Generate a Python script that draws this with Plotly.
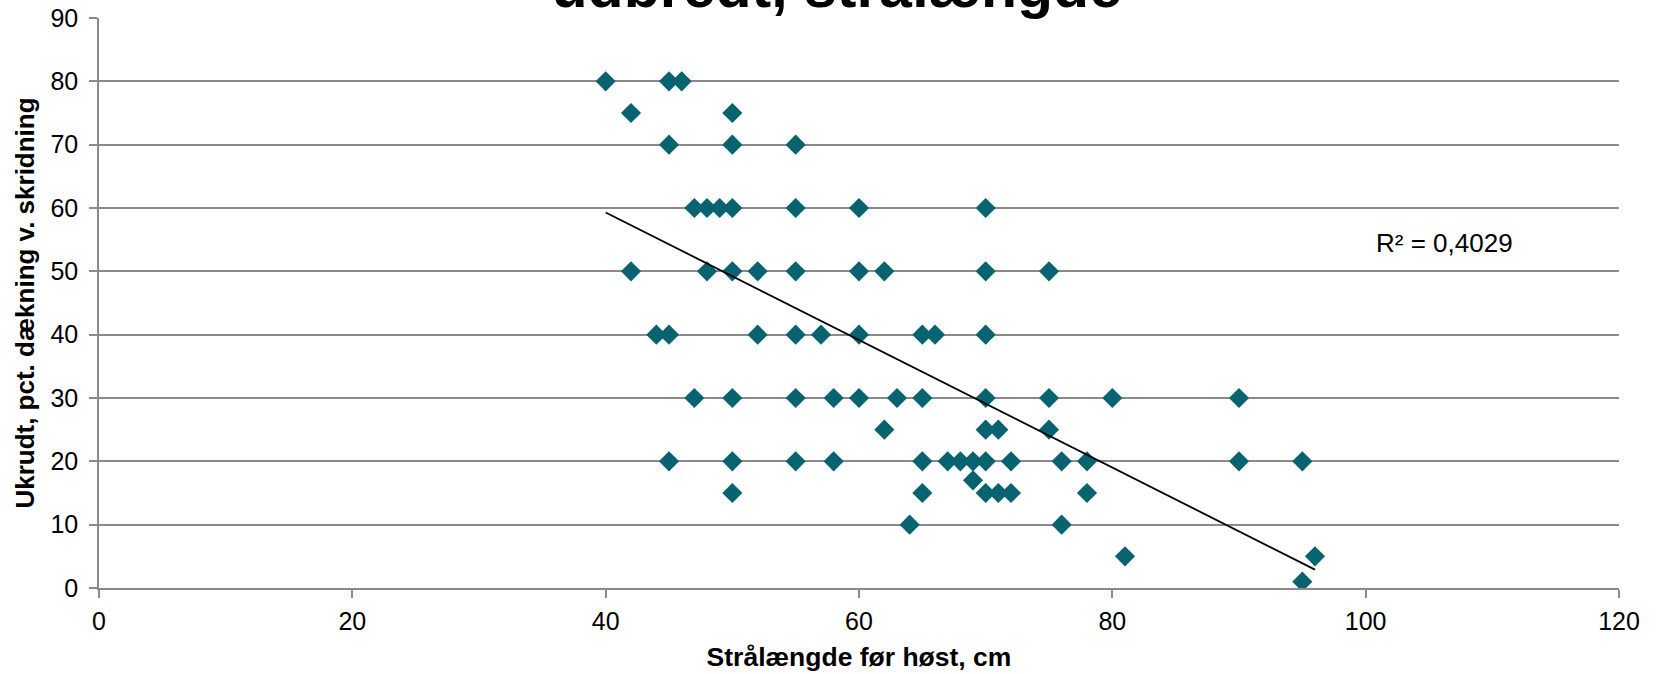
import plotly.graph_objects as go

# Data: (x = strålængde cm, y = ukrudt pct.)
x_vals = [40, 45, 46,
          42, 50,
          45, 50, 55,
          47, 48, 49, 50, 55, 60, 70,
          42, 48, 50, 52, 55, 60, 62, 70, 75,
          44, 45, 52, 55, 57, 60, 65, 66, 70,
          47, 50, 55, 58, 60, 63, 65, 70, 75, 80, 90,
          62, 70, 71, 75,
          45, 50, 55, 58, 65, 67, 68, 69, 70, 72, 76, 78, 90, 95,
          69,
          50, 65, 70, 71, 72, 78,
          64, 76,
          81, 96,
          95]
y_vals = [80, 80, 80,
          75, 75,
          70, 70, 70,
          60, 60, 60, 60, 60, 60, 60,
          50, 50, 50, 50, 50, 50, 50, 50, 50,
          40, 40, 40, 40, 40, 40, 40, 40, 40,
          30, 30, 30, 30, 30, 30, 30, 30, 30, 30, 30,
          25, 25, 25, 25,
          20, 20, 20, 20, 20, 20, 20, 20, 20, 20, 20, 20, 20, 20,
          17,
          15, 15, 15, 15, 15, 15,
          10, 10,
          5, 5,
          1]

# Linear trend line endpoints
trend_x = [40, 96]
trend_y = [59.3, 2.9]
r2_label = "R² = 0,4029"

title_text = "udbredt, strålængde"
x_title = "Strålængde før høst, cm"
y_title = "Ukrudt, pct. dækning v. skridning"

FONT = "Liberation Sans, Arial, sans-serif"
GRID = "#8a8a8a"
TEAL = "#07636f"

fig = go.Figure()
fig.add_trace(go.Scatter(
    x=x_vals, y=y_vals, mode="markers",
    marker=dict(symbol="diamond", size=15.5, color=TEAL, line=dict(width=0)),
    showlegend=False, hoverinfo="x+y"))
fig.add_trace(go.Scatter(
    x=trend_x, y=trend_y, mode="lines",
    line=dict(color="black", width=1.8),
    showlegend=False, hoverinfo="skip"))

fig.add_annotation(x=106.2, y=54.4, xref="x", yref="y", text=r2_label,
                   showarrow=False, font=dict(family=FONT, size=26, color="black"),
                   xanchor="center", yanchor="middle")

fig.update_layout(
    width=1657, height=674,
    margin=dict(l=99, r=38, t=18, b=86, autoexpand=False),
    paper_bgcolor="white", plot_bgcolor="white",
    font=dict(family=FONT, size=25, color="black"),
    title=dict(text=title_text, x=0.505, xanchor="center",
               y=0.99, yanchor="bottom", yref="container",
               font=dict(family=FONT, size=59, color="black", weight="bold")),
    xaxis=dict(range=[0, 120], dtick=20, tick0=0, showgrid=False,
               showline=True, linecolor=GRID, linewidth=1.5,
               ticks="outside", ticklen=8, tickcolor=GRID, tickwidth=1.5,
               zeroline=False, ticklabelstandoff=2,
               tickfont=dict(family=FONT, size=25, color="black"),
               title=dict(text=x_title, standoff=14,
                          font=dict(family=FONT, size=26.5, color="black", weight="bold"))),
    yaxis=dict(range=[0, 90], dtick=10, tick0=0, showgrid=True,
               gridcolor=GRID, gridwidth=1.5,
               showline=True, linecolor=GRID, linewidth=1.5,
               ticks="outside", ticklen=8, tickcolor=GRID, tickwidth=1.5,
               zeroline=False, ticklabelstandoff=6,
               tickfont=dict(family=FONT, size=25, color="black"),
               title=dict(text=y_title, standoff=8,
                          font=dict(family=FONT, size=26, color="black", weight="bold"))),
)

fig.write_html("out.html")
